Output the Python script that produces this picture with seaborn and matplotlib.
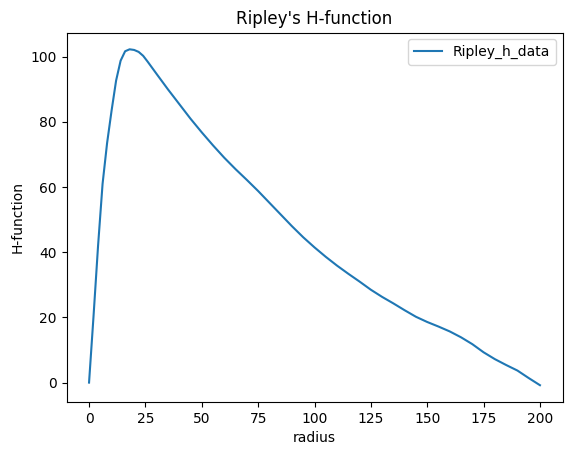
import matplotlib
matplotlib.use("Agg")
import matplotlib.pyplot as plt
import seaborn as sns
import pandas as pd

radius = [0, 2, 4, 6, 8, 10, 12, 14, 16, 18, 20, 22, 24, 26, 28, 30, 35, 40, 45,
          50, 55, 60, 65, 70, 75, 80, 85, 90, 95, 100, 105, 110, 115, 120, 125,
          130, 135, 140, 145, 150, 155, 160, 165, 170, 175, 180, 185, 190, 195, 200]
h_values = [0, 20.5, 42, 61, 73.5, 83.5, 92.7, 98.8, 101.7, 102.3, 102.1, 101.5,
            100.3, 98.5, 96.6, 94.7, 90, 85.5, 81, 76.8, 72.8, 69, 65.5, 62.2,
            58.8, 55.2, 51.6, 48, 44.6, 41.5, 38.6, 35.9, 33.4, 31, 28.5, 26.3,
            24.3, 22.2, 20.2, 18.6, 17.2, 15.7, 13.9, 11.8, 9.3, 7.2, 5.4, 3.7,
            1.4, -0.8]

df = pd.DataFrame({"radius": radius, "H": h_values})

fig = plt.figure(figsize=(5.71, 4.55), dpi=100)
ax = fig.add_axes([66.5 / 571, 53 / 455, 496 / 571, 369.5 / 455])
sns.lineplot(data=df, x="radius", y="H", ax=ax, label="Ripley_h_data", color="#1f77b4")
ax.set_title("Ripley's H-function")
ax.set_xlabel("radius")
ax.set_ylabel("H-function")
ax.legend(loc="upper right")
fig.savefig("out.png", dpi=100)
